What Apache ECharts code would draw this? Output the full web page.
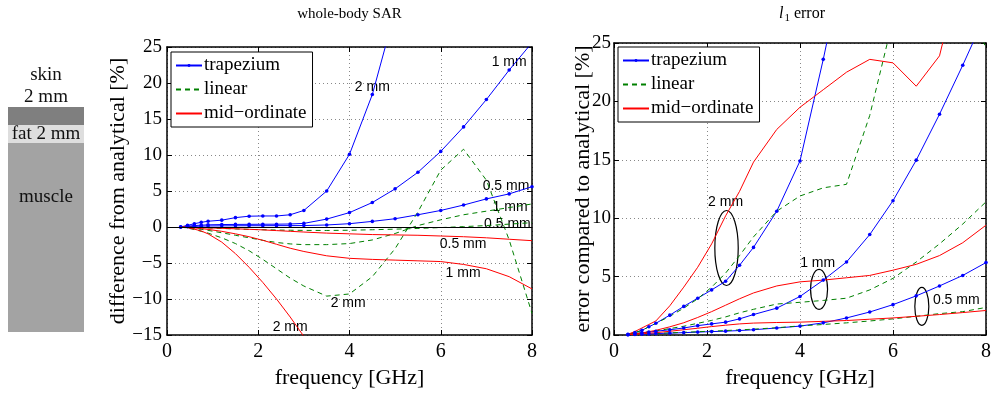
<!DOCTYPE html>
<html>
<head>
<meta charset="utf-8">
<script src="https://cdn.jsdelivr.net/npm/echarts@6/dist/echarts.min.js"></script>
<style>
  html, body { margin: 0; padding: 0; background: #fff; }
  #chart { width: 994px; height: 394px; }
</style>
</head>
<body>
<div id="chart"></div>
<script>
// frequencies (GHz) where the three rules were evaluated
const freqs = [0.3, 0.45, 0.6, 0.75, 0.9, 1.2, 1.5, 1.8, 2.1, 2.4, 2.7, 3.0, 3.5, 4.0, 4.5, 5.0, 5.5, 6.0, 6.5, 7.0, 7.5, 8.0];

// whole-body SAR, difference from analytical [%]
const trapSar2 = [0, 0.23, 0.46, 0.65, 0.8, 0.95, 1.3, 1.5, 1.53, 1.53, 1.7, 2.3, 5.0, 10.1, 18.4, 30, null, null, null, null, null, null];
const trapSar1 = [0, 0.12, 0.2, 0.26, 0.3, 0.34, 0.36, 0.37, 0.38, 0.39, 0.42, 0.5, 1.1, 2.0, 3.4, 5.3, 7.6, 10.5, 13.9, 17.7, 21.8, 25.6];
const trapSar05 = [0, 0.05, 0.09, 0.12, 0.14, 0.16, 0.17, 0.18, 0.18, 0.19, 0.19, 0.2, 0.28, 0.46, 0.78, 1.15, 1.7, 2.3, 3.05, 3.9, 4.6, 5.6];
const linSar2 = [0, -0.15, -0.35, -0.6, -0.85, -1.5, -2.3, -3.3, -4.5, -5.8, -7.1, -8.2, -9.6, -9.3, -6.9, -3.0, 2.1, 7.9, 10.8, 6.5, -1.8, -12.0];
const linSar1 = [0, -0.1, -0.2, -0.33, -0.47, -0.8, -1.15, -1.5, -1.85, -2.15, -2.35, -2.45, -2.45, -2.3, -1.8, -0.9, 0.2, 1.0, 1.7, 2.2, 2.7, 3.2];
const linSar05 = [0, -0.03, -0.06, -0.1, -0.13, -0.2, -0.27, -0.33, -0.38, -0.42, -0.45, -0.47, -0.48, -0.45, -0.38, -0.3, -0.2, -0.08, 0.05, 0.2, 0.4, 0.6];
const midSar2 = [0, -0.1, -0.3, -0.55, -0.95, -2.1, -3.7, -5.6, -7.7, -10.0, -12.5, -15.2, -19.5, null, null, null, null, null, null, null, null, null];
const midSar1 = [0, -0.05, -0.12, -0.22, -0.33, -0.6, -0.95, -1.35, -1.85, -2.4, -2.95, -3.4, -4.0, -4.35, -4.5, -4.6, -4.7, -4.8, -5.2, -5.8, -6.9, -8.6];
const midSar05 = [0, -0.02, -0.05, -0.08, -0.12, -0.18, -0.25, -0.32, -0.4, -0.5, -0.6, -0.7, -0.85, -0.95, -1.05, -1.1, -1.15, -1.25, -1.35, -1.5, -1.7, -1.9];

// l1 error compared to analytical [%]
const trapErr2 = [0.06, 0.2, 0.4, 0.7, 1.0, 1.7, 2.45, 3.15, 3.86, 4.6, 5.97, 7.5, 10.6, 14.9, 23.6, 33, null, null, null, null, null, null];
const trapErr1 = [0.03, 0.1, 0.18, 0.25, 0.32, 0.45, 0.6, 0.8, 0.95, 1.1, 1.38, 1.75, 2.3, 3.3, 4.7, 6.25, 8.6, 11.5, 14.97, 18.9, 23.1, 27.5];
const trapErr05 = [0.02, 0.04, 0.07, 0.09, 0.12, 0.16, 0.2, 0.25, 0.29, 0.33, 0.38, 0.45, 0.6, 0.76, 1.04, 1.46, 1.97, 2.6, 3.35, 4.2, 5.1, 6.2];
const linErr2 = [0.06, 0.2, 0.4, 0.7, 1.0, 1.6, 2.3, 3.1, 4.1, 5.3, 6.8, 8.4, 10.6, 11.9, 12.6, 12.9, 18.8, 27, 30, 31, 29, 24.6];
const linErr1 = [0.05, 0.12, 0.2, 0.27, 0.35, 0.55, 0.75, 1.0, 1.25, 1.55, 1.9, 2.2, 2.65, 2.8, 2.96, 3.15, 3.86, 4.85, 6.25, 7.8, 9.5, 11.4];
const linErr05 = [0.02, 0.04, 0.07, 0.1, 0.13, 0.18, 0.23, 0.28, 0.33, 0.38, 0.44, 0.5, 0.62, 0.78, 0.9, 1.04, 1.2, 1.38, 1.6, 1.83, 2.0, 2.36];
const midErr2 = [0.06, 0.3, 0.6, 0.9, 1.2, 2.5, 4.1, 5.8, 7.8, 10.2, 12.3, 14.8, 17.6, 19.5, 21.0, 22.5, 23.6, 23.3, 21.3, 23.9, 32, 40];
const midErr1 = [0.04, 0.1, 0.18, 0.28, 0.4, 0.7, 1.05, 1.5, 2.0, 2.55, 3.1, 3.6, 4.2, 4.55, 4.7, 4.9, 5.1, 5.55, 6.05, 6.8, 7.9, 9.4];
const midErr05 = [0.02, 0.05, 0.1, 0.15, 0.2, 0.32, 0.45, 0.58, 0.72, 0.84, 0.95, 1.02, 1.07, 1.1, 1.17, 1.24, 1.35, 1.46, 1.6, 1.75, 1.92, 2.1];

const methods = ['trapezium', 'linear', 'mid−ordinate'];
const xTicks = [0, 8, 2];          // min, max, interval
const sarTicks = [-15, 25, 5];
const errTicks = [0, 25, 5];

// text notes placed in data units: [x, y, text]
const sarNotes = [[4.5, 19.4, '2 mm'], [7.5, 22.9, '1 mm'], [7.43, 5.7, '0.5 mm'], [7.52, 2.8, '1 mm'],
  [7.46, 0.4, '0.5 mm'], [6.49, -2.4, '0.5 mm'], [6.49, -6.4, '1 mm'], [3.97, -10.6, '2 mm'], [2.7, -13.9, '2 mm']];
const errNotes = [[2.4, 11.4, '2 mm'], [4.38, 6.17, '1 mm'], [7.36, 2.96, '0.5 mm']];
// ellipses grouping the curves: [x, y, rx px, ry px]
const errRings = [[2.42, 7.45, 11.7, 37.5], [4.41, 3.91, 8.5, 20], [6.62, 2.45, 7, 19]];

const SERIF = '"Liberation Serif", "DejaVu Serif", serif';
const SANS = '"Liberation Sans", Arial, sans-serif';
// small dot centred in a padded box, so the legend draws it small too
const DOT = 'path://M0,0M20,20M10,7A3,3,0,1,1,10,13A3,3,0,1,1,10,7Z';
const look = {
  'trapezium': { color: '#0000ff', type: 'solid', symbol: DOT },
  'linear': { color: '#008000', type: [5, 4], symbol: 'none' },
  'mid−ordinate': { color: '#ff0000', type: 'solid', symbol: 'none' }
};

const pairs = vals => freqs.map((f, i) => [f, vals[i]]);

function line(name, vals, axis) {
  const s = look[name];
  return {
    type: 'line', name, xAxisIndex: axis, yAxisIndex: axis,
    data: pairs(vals),
    symbol: s.symbol, symbolSize: 12, showSymbol: s.symbol !== 'none',
    lineStyle: { color: s.color, width: 1, type: s.type },
    itemStyle: { color: s.color },
    silent: true, connectNulls: false
  };
}

const fmt = v => String(v).replace('-', '−');

function xAxes(grid, name) {
  return [{
    gridIndex: grid, type: 'value', min: xTicks[0], max: xTicks[1], interval: xTicks[2],
    axisLine: { onZero: false, lineStyle: { color: '#000', width: 1.5 } },
    axisTick: { inside: true, length: 5, lineStyle: { color: '#000' } },
    axisLabel: { color: '#000', fontSize: 20, fontFamily: SERIF, margin: 7 },
    splitLine: { show: true, lineStyle: { color: '#888', type: [1, 3] } },
    name, nameLocation: 'middle', nameGap: 32, nameMoveOverlap: false,
    nameTextStyle: { color: '#000', fontSize: 22, fontFamily: SERIF }
  }, {
    gridIndex: grid, type: 'value', position: 'top', min: xTicks[0], max: xTicks[1], interval: xTicks[2],
    axisLine: { onZero: false, lineStyle: { color: '#000', width: 1.5 } },
    axisTick: { inside: true, length: 5, lineStyle: { color: '#000' } },
    axisLabel: { show: false }, splitLine: { show: false }
  }];
}

function yAxes(grid, ticks, name, gap, margin) {
  return [{
    gridIndex: grid, type: 'value', min: ticks[0], max: ticks[1], interval: ticks[2],
    axisLine: { show: true, onZero: false, lineStyle: { color: '#000', width: 1.5 } },
    axisTick: { show: true, inside: true, length: 5, lineStyle: { color: '#000' } },
    axisLabel: { color: '#000', fontSize: 19, fontFamily: SERIF, margin, formatter: fmt },
    splitLine: { show: true, lineStyle: { color: '#888', type: [1, 3] } },
    name, nameLocation: 'middle', nameGap: gap, nameMoveOverlap: false,
    nameTextStyle: { color: '#000', fontSize: 22, fontFamily: SERIF }
  }, {
    gridIndex: grid, type: 'value', position: 'right', min: ticks[0], max: ticks[1], interval: ticks[2],
    axisLine: { show: true, onZero: false, lineStyle: { color: '#000', width: 1.5 } },
    axisTick: { show: true, inside: true, length: 5, lineStyle: { color: '#000' } },
    axisLabel: { show: false }, splitLine: { show: false }
  }];
}

function legend(left, top) {
  return {
    data: methods.map(m => look[m].symbol === 'none' ? { name: m, itemStyle: { opacity: 0 } } : { name: m }),
    orient: 'vertical', left, top, selectedMode: false,
    backgroundColor: '#fff', borderColor: '#000', borderWidth: 1, borderRadius: 0,
    padding: [4, 6, 4, 4], itemGap: 5, itemWidth: 26, itemHeight: 12,
    textStyle: { color: '#000', fontSize: 19, fontFamily: SERIF, padding: [0, 0, 0, -3] }
  };
}

const sarSeries = [
  line('trapezium', trapSar2, 0), line('trapezium', trapSar1, 0), line('trapezium', trapSar05, 0),
  line('linear', linSar2, 0), line('linear', linSar1, 0), line('linear', linSar05, 0),
  line('mid−ordinate', midSar2, 0), line('mid−ordinate', midSar1, 0), line('mid−ordinate', midSar05, 0)
];
// analytical reference line at zero
sarSeries[0].markLine = {
  silent: true, symbol: 'none', label: { show: false },
  lineStyle: { color: '#000', type: 'solid', width: 1 }, data: [{ yAxis: 0 }]
};
const errSeries = [
  line('trapezium', trapErr2, 2), line('trapezium', trapErr1, 2), line('trapezium', trapErr05, 2),
  line('linear', linErr2, 2), line('linear', linErr1, 2), line('linear', linErr05, 2),
  line('mid−ordinate', midErr2, 2), line('mid−ordinate', midErr1, 2), line('mid−ordinate', midErr05, 2)
];

const chart = echarts.init(document.getElementById('chart'), null, { renderer: 'canvas' });
chart.setOption({
  animation: false,
  backgroundColor: '#fff',
  grid: [
    { left: 167, top: 47, width: 365, height: 288 },
    { left: 614, top: 43, width: 376, height: 296 }
  ],
  xAxis: [...xAxes(0, 'frequency [GHz]'), ...xAxes(1, 'frequency [GHz]')],
  yAxis: [...yAxes(0, sarTicks, 'difference from analytical [%]', 38, 5),
    ...yAxes(1, errTicks, 'error compared to analytical [%]', 20, 3)],
  legend: [legend(171, 52), legend(618, 47)],
  series: [...sarSeries, ...errSeries]
});

// layer diagram, titles and notes
const graphics = [
  { type: 'rect', shape: { x: 8, y: 107, width: 76, height: 18 }, style: { fill: '#7f7f7f' } },
  { type: 'rect', shape: { x: 8, y: 125, width: 76, height: 18 }, style: { fill: '#dedede' } },
  { type: 'rect', shape: { x: 8, y: 143, width: 76, height: 189 }, style: { fill: '#a3a3a3' } }
];
const layerText = [[46, 75, 'skin'], [46, 97, '2 mm'], [46, 134, 'fat 2 mm'], [46, 197, 'muscle']];
layerText.forEach(([x, y, t]) => graphics.push({
  type: 'text', x, y, style: { text: t, font: '19px ' + SERIF, fill: '#111', align: 'center', verticalAlign: 'middle' }
}));
graphics.push({
  type: 'text', x: 349.5, y: 14,
  style: { text: 'whole-body SAR', font: '15px ' + SERIF, fill: '#000', align: 'center', verticalAlign: 'middle' }
});
graphics.push({
  type: 'text', x: 802, y: 14,
  style: {
    text: '{i|l}{s|1}{n| error}', fill: '#000', align: 'center', verticalAlign: 'middle',
    rich: {
      i: { fontFamily: SERIF, fontSize: 16, fontStyle: 'italic' },
      s: { fontFamily: SERIF, fontSize: 11, padding: [9, 0, 0, 1] },
      n: { fontFamily: SERIF, fontSize: 16 }
    }
  }
});
sarNotes.forEach(([x, y, t]) => {
  const p = chart.convertToPixel({ gridIndex: 0 }, [x, y]);
  graphics.push({ type: 'text', x: p[0], y: p[1], style: { text: t, font: '14px ' + SANS, fill: '#000', align: 'center', verticalAlign: 'middle' } });
});
errNotes.forEach(([x, y, t]) => {
  const p = chart.convertToPixel({ gridIndex: 1 }, [x, y]);
  graphics.push({ type: 'text', x: p[0], y: p[1], style: { text: t, font: '14px ' + SANS, fill: '#000', align: 'center', verticalAlign: 'middle' } });
});
errRings.forEach(([x, y, rx, ry]) => {
  const p = chart.convertToPixel({ gridIndex: 1 }, [x, y]);
  graphics.push({ type: 'ellipse', shape: { cx: p[0], cy: p[1], rx, ry }, style: { fill: 'none', stroke: '#000', lineWidth: 1.2 } });
});
chart.setOption({ graphic: graphics });
</script>
</body>
</html>
